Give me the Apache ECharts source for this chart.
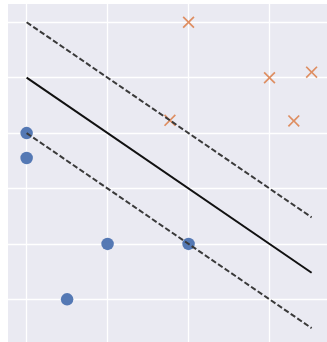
<!DOCTYPE html>
<html>
<head>
<meta charset="utf-8">
<script src="https://cdn.jsdelivr.net/npm/echarts@6/dist/echarts.min.js"></script>
<style>
  html, body { margin: 0; padding: 0; background: #ffffff; }
  #chart { width: 327px; height: 342px; }
</style>
</head>
<body>
<div id="chart"></div>
<script>
// Class A points (circles)
const classAX = [1, 1, 2, 3, 1.5];
const classAY = [4, 3.55, 2, 2, 1];
// Class B points (crosses)
const classBX = [3, 4, 4.52, 4.3, 2.77];
const classBY = [6, 5, 5.1, 4.22, 4.23];
// Separating line and its two margins, from x = 1 to the largest x
const lineX = [1, 4.52];
const boundaryY = [5, 1.48];
const upperMarginY = [6, 2.48];
const lowerMarginY = [4, 0.48];
// Grid positions
const gridX = [1, 2, 3, 4];
const gridY = [1, 2, 3, 4, 5, 6];

const pairs = (xs, ys) => xs.map((x, i) => [x, ys[i]]);

// Filled "x" marker shape
const crossPath = 'path://M0,1 L1,0 L5,4 L9,0 L10,1 L6,5 L10,9 L9,10 L5,6 L1,10 L0,9 L4,5 Z';

const chart = echarts.init(document.getElementById('chart'), null, { renderer: 'canvas' });

chart.setOption({
  animation: false,
  backgroundColor: '#ffffff',
  grid: {
    left: 8, top: 4, right: 0, bottom: 0,
    show: true,
    backgroundColor: '#EAEAF2',
    borderWidth: 0
  },
  xAxis: {
    type: 'value', min: 0.77, max: 4.71,
    axisLine: { show: false }, axisTick: { show: false },
    axisLabel: { show: false }, splitLine: { show: false }
  },
  yAxis: {
    type: 'value', min: 0.23, max: 6.33,
    axisLine: { show: false }, axisTick: { show: false },
    axisLabel: { show: false }, splitLine: { show: false }
  },
  series: [
    {
      name: 'grid',
      type: 'line',
      data: [],
      z: 0,
      silent: true,
      markLine: {
        z: 0,
        silent: true,
        symbol: ['none', 'none'],
        label: { show: false },
        lineStyle: { color: '#ffffff', width: 1.3, type: 'solid' },
        emphasis: { disabled: true },
        data: gridX.map(v => ({ xAxis: v })).concat(gridY.map(v => ({ yAxis: v })))
      }
    },
    {
      name: 'class A',
      type: 'scatter',
      z: 2,
      symbol: 'circle',
      symbolSize: 12.5,
      itemStyle: { color: '#4C72B0', opacity: 0.95 },
      data: pairs(classAX, classAY)
    },
    {
      name: 'class B',
      type: 'scatter',
      z: 2,
      symbol: crossPath,
      symbolSize: 12,
      itemStyle: { color: '#DD8452', opacity: 0.9 },
      data: pairs(classBX, classBY)
    },
    {
      name: 'boundary',
      type: 'line',
      z: 3,
      showSymbol: false,
      lineStyle: { color: '#111111', width: 2 },
      data: pairs(lineX, boundaryY)
    },
    {
      name: 'upper margin',
      type: 'line',
      z: 3,
      showSymbol: false,
      lineStyle: { color: '#3a3a3a', width: 2, type: [5.5, 2.5] },
      data: pairs(lineX, upperMarginY)
    },
    {
      name: 'lower margin',
      type: 'line',
      z: 3,
      showSymbol: false,
      lineStyle: { color: '#3a3a3a', width: 2, type: [5.5, 2.5] },
      data: pairs(lineX, lowerMarginY)
    }
  ]
});
</script>
</body>
</html>
